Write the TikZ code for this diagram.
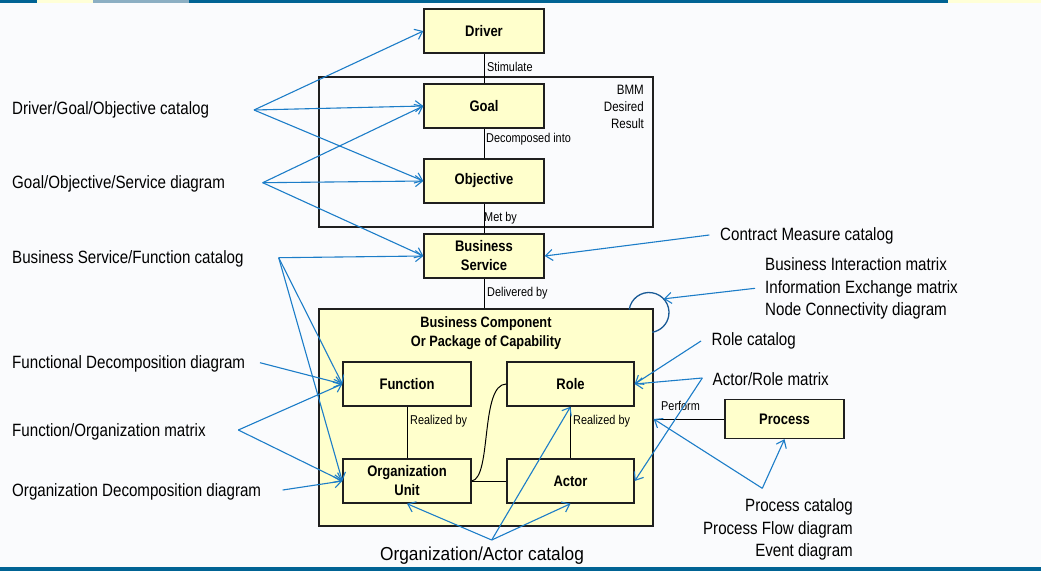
\documentclass[tikz,border=0pt]{standalone}
\usepackage{fontspec}
\setmainfont{Liberation Sans}[FakeStretch=0.85]
\newfontfamily\wsans{Liberation Sans}[FakeStretch=0.92]
\usetikzlibrary{arrows.meta,calc}
\definecolor{bgc}{RGB}{250,251,253}
\definecolor{boxfill}{RGB}{255,255,204}
\definecolor{arrowblue}{RGB}{28,125,200}
\definecolor{loopblue}{RGB}{25,90,150}
\definecolor{bardark}{RGB}{0,99,148}
\definecolor{baryellow}{RGB}{255,255,215}
\definecolor{bargray}{RGB}{140,175,195}
\begin{document}
\begin{tikzpicture}[x=1pt,y=-1pt,
  box/.style={draw=black!88,line width=1.4pt,fill=boxfill,inner sep=0pt,
    minimum width=120pt,minimum height=44pt,align=center,
    font=\bfseries\fontsize{15.3}{19}\selectfont},
  frame/.style={draw=black!88,line width=1.4pt,inner sep=0pt},
  lbl/.style={inner sep=0pt,font=\fontsize{12.8}{17}\selectfont},
  cat/.style={inner sep=0pt,font=\fontsize{17.8}{22.5}\selectfont},
  link/.style={draw=black,line width=1pt},
  ref/.style={draw=arrowblue,line width=1.1pt,-{Straight Barb[length=7pt,width=11pt]}},
]
\fill[bgc] (0,0) rectangle (1041,571);
\useasboundingbox (0,0) rectangle (1041,571);
% bars
\fill[bardark] (0,0) rectangle (37,3);
\fill[baryellow] (37,0) rectangle (93,3);
\fill[bargray] (93,0) rectangle (189,3);
\fill[bardark] (189,0) rectangle (948,3);
\fill[baryellow] (948,0) rectangle (1041,3);
\fill[bardark] (0,567) rectangle (1041,571);

% frames
\node[frame,minimum width=334pt,minimum height=150pt] (bmm) at (486,152) {};
\node[frame,fill=boxfill,minimum width=334pt,minimum height=217pt] (bc) at (486,417.5) {};

% boxes
\node[box] (driver) at (484,31) {Driver};
\node[box] (goal) at (484,106) {Goal};
\node[box] (objective) at (484,181) {Objective};
\node[box] (service) at (484,256) {Business\\Service};
\node[box,minimum width=128pt] (function) at (407,384) {Function};
\node[box,minimum width=127pt] (role) at (570.5,384) {Role};
\node[box,minimum width=128pt] (orgunit) at (407,481) {Organization\\Unit};
\node[box,minimum width=127pt] (actor) at (570.5,481) {Actor};
\node[box,minimum width=119pt,minimum height=39pt] (process) at (784.5,419) {Process};

% texts inside frames
\node[lbl,align=right,anchor=east,font=\fontsize{13.6}{17}\selectfont] (bmmlbl) at (644,107) {BMM\\Desired\\Result};
\node[inner sep=0pt,align=center,font=\bfseries\fontsize{15}{19}\selectfont] (bctitle) at (486,333.5) {Business Component\\Or Package of Capability};

% black links
\draw[link] (driver.south) -- (goal.north);
\draw[link] (goal.south) -- (objective.north);
\draw[link] (objective.south) -- (service.north);
\draw[link] (service.south) -- (bc.north -| service.south);
\draw[link] (function.south) -- (orgunit.north);
\draw[link] (role.south) -- (actor.north);
\draw[link] (orgunit.east) -- (actor.west);
\draw[link] (orgunit.east) .. controls (492,478) and (480,384) .. (role.west);
\coordinate (perfpt) at (process.west -| bc.east);
\draw[link] (process.west) -- (perfpt);

% link labels
\node[lbl,anchor=west] (stim) at (487,67) {Stimulate};
\node[lbl,anchor=west] (decomp) at (486,139) {Decomposed into};
\node[lbl,anchor=west] (metby) at (484,218) {Met by};
\node[lbl,anchor=west] (delby) at (487,293) {Delivered by};
\node[lbl,anchor=west] (real1) at (410,421.5) {Realized by};
\node[lbl,anchor=west] (real2) at (573,421.5) {Realized by};
\node[lbl,anchor=west] (perf) at (661,406) {Perform};

% loop
\coordinate (loopc) at (649,312.5);
\draw[loopblue,line width=1.3pt] ($(loopc)+(-171.4:20)$) arc[start angle=-171.4,end angle=80.5,radius=20];
\coordinate (looptip) at ($(loopc)+(-43:20)$);

% catalog labels
\node[cat,anchor=west] (c1) at (12,109.5) {Driver/Goal/Objective catalog};
\node[cat,anchor=west] (c2) at (12,183.5) {Goal/Objective/Service diagram};
\node[cat,anchor=west] (c3) at (12,259) {Business Service/Function catalog};
\node[cat,anchor=west] (c4) at (12,364) {Functional Decomposition diagram};
\node[cat,anchor=west] (c5) at (12,431.5) {Function/Organization matrix};
\node[cat,anchor=west] (c6) at (12,491.5) {Organization Decomposition diagram};
\node[cat,anchor=west] (c7) at (720,236) {Contract Measure catalog};
\node[cat,anchor=west,align=left] (c8) at (765,288.5) {Business Interaction matrix\\Information Exchange matrix\\Node Connectivity diagram};
\node[cat,anchor=west] (c9) at (711.5,341) {Role catalog};
\node[cat,anchor=west] (c10) at (712.5,379) {Actor/Role matrix};
\node[cat,anchor=east,align=right,font=\fontsize{17.8}{22.2}\selectfont] (c11) at (853,529.5) {Process catalog\\Process Flow diagram\\Event diagram};
\node[inner sep=0pt,font=\wsans\fontsize{18.8}{22}\selectfont] (c12) at (482,556) {Organization/Actor catalog};

% fan points
\coordinate (f1) at (254,110);
\coordinate (f2) at (262.7,182.7);
\coordinate (f3) at (278.7,257.7);
\coordinate (f4) at (260,362.7);
\coordinate (f5) at (238.3,430);
\coordinate (f6) at (282.7,490);
\coordinate (f7) at (709.3,235);
\coordinate (f8) at (755,288.3);
\coordinate (f9) at (701,341);
\coordinate (f10) at (702.3,378);
\coordinate (f11) at (762.3,488.3);
\coordinate (f12) at (491.7,540);

% blue reference arrows
\draw[ref] (f1) -- (driver.west);
\draw[ref] (f1) -- (goal.west);
\draw[ref] (f1) -- (objective.west);
\draw[ref] (f2) -- (goal.west);
\draw[ref] (f2) -- (objective.west);
\draw[ref] (f2) -- (service.west);
\draw[ref] (f3) -- (service.west);
\draw[ref] (f3) -- (function.west);
\draw[ref] (f3) -- (orgunit.west);
\draw[ref] (f4) -- (function.west);
\draw[ref] (f5) -- (function.west);
\draw[ref] (f5) -- (orgunit.west);
\draw[ref] (f6) -- (orgunit.west);
\draw[ref] (f7) -- (service.east);
\draw[ref] (f8) -- (looptip);
\draw[ref] (f9) -- (role.east);
\draw[ref] (f10) -- (role.east);
\draw[ref] (f10) -- (actor.east);
\draw[ref] (f11) -- (perfpt);
\draw[ref] (f11) -- (process.south);
\draw[ref] (f12) -- (orgunit.south);
\draw[ref] (f12) -- (actor.south);
\draw[ref] (f12) -- (role.south);
\end{tikzpicture}
\end{document}
